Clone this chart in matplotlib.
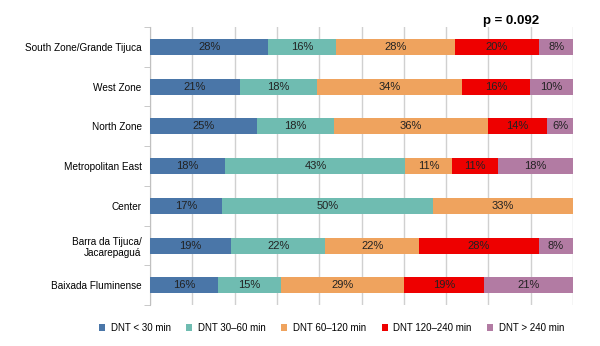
import matplotlib.pyplot as plt
import numpy as np

regions = ["South Zone/Grande Tijuca", "West Zone", "North Zone", "Metropolitan East",
           "Center", "Barra da Tijuca/\nJacarepaguá", "Baixada Fluminense"]
series_names = ["DNT < 30 min", "DNT 30–60 min", "DNT 60–120 min", "DNT 120–240 min", "DNT > 240 min"]
lt30 = [28, 21, 25, 18, 17, 19, 16]
d30_60 = [16, 18, 18, 43, 50, 22, 15]
d60_120 = [28, 34, 36, 11, 33, 22, 29]
d120_240 = [20, 16, 14, 11, 0, 28, 19]
gt240 = [8, 10, 6, 18, 0, 8, 21]
colors = ["#4a76a8", "#6fbcb1", "#efa35e", "#ee0000", "#b27ba3"]

plt.rcParams['font.family'] = ['Liberation Sans', 'DejaVu Sans']

data = np.array([lt30, d30_60, d60_120, d120_240, gt240], dtype=float)
pct = data / data.sum(axis=0) * 100

fig = plt.figure(figsize=(6, 3.46), dpi=100)
ax = fig.add_axes([0.25, 0.118, 0.705, 0.804])

y = np.arange(len(regions))
left = np.zeros(len(regions))
for i in range(len(series_names)):
    ax.barh(y, pct[i], left=left, height=0.4, color=colors[i], label=series_names[i], zorder=3)
    for j in range(len(regions)):
        if data[i, j] > 0:
            ax.text(left[j] + pct[i, j] / 2, y[j], f"{int(data[i, j])}%", ha='center', va='center',
                    fontsize=8, color='#222222', zorder=4)
    left += pct[i]

ax.set_xlim(0, 100)
ax.set_ylim(len(regions) - 0.5, -0.5)
ax.set_xticks(np.arange(0, 101, 10))
ax.set_xticklabels([])
ax.tick_params(axis='x', length=0)
ax.grid(axis='x', color='#d0d0d0', linewidth=1, zorder=0)
ax.set_yticks(y)
ax.set_yticklabels(regions, fontsize=7.2, ha='right')
ax.tick_params(axis='y', length=0, pad=6)
ax.set_yticks(np.arange(-0.5, len(regions), 1), minor=True)
ax.tick_params(axis='y', which='minor', length=4, color='#c0c0c0')
for s in ['top', 'right', 'bottom']:
    ax.spines[s].set_visible(False)
ax.spines['left'].set_color('#c0c0c0')

fig.text(0.852, 0.94, "p = 0.092", fontsize=9.5, fontweight='bold', ha='center', va='center')

fig.legend(loc='center', bbox_to_anchor=(0.553, 0.052), ncol=5, frameon=False, fontsize=7,
           handlelength=0.6, handleheight=0.6, handletextpad=0.6, columnspacing=1.6)

fig.savefig("out.png", dpi=100)
